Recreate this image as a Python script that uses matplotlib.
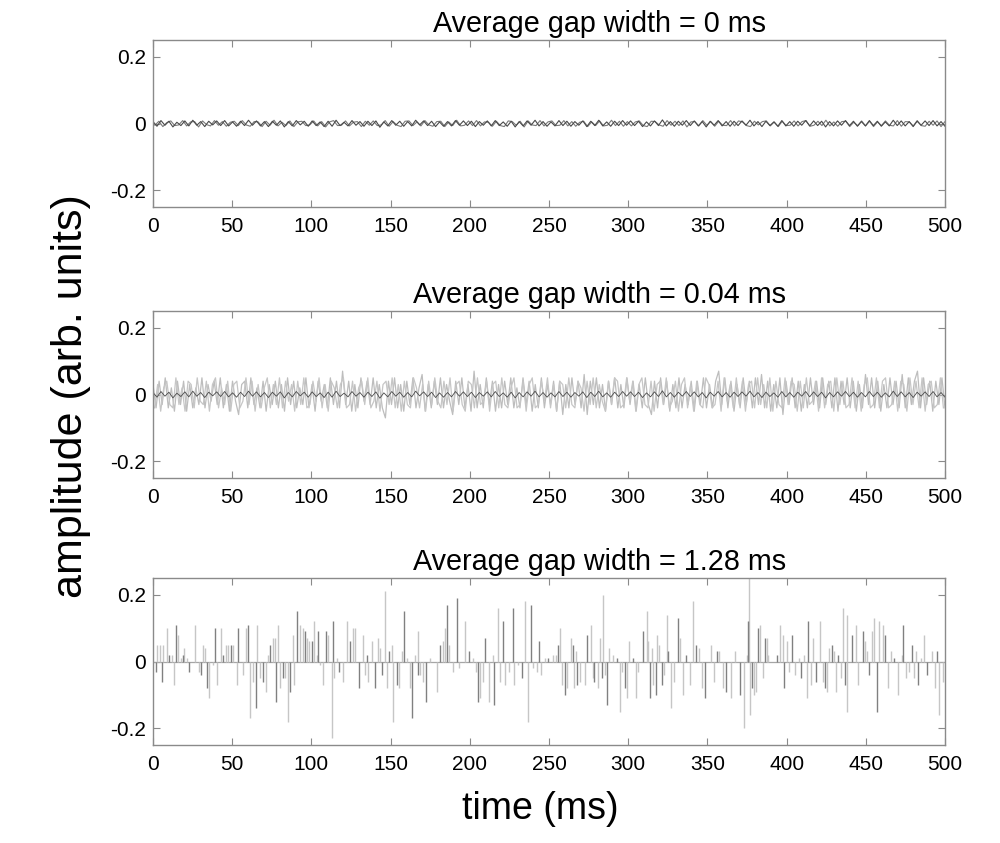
import numpy as np
import matplotlib
matplotlib.use('Agg')
import matplotlib.pyplot as plt

plt.rcParams['font.family'] = ['Liberation Sans', 'DejaVu Sans']

# panel titles
titles = ['Average gap width = 0 ms',
          'Average gap width = 0.04 ms',
          'Average gap width = 1.28 ms']

# panel 1: continuous noise, two traces, units of 0.001
noise_0ms = [
    6, -8, 9, -5, 7, -10, 4, -6, 8, -7, 10, -5, 6, -9, 7, -4, 8, -6, 9, -7,
    5, -8, 7, -6, 10, -5, 8, -7, 6, -9, 7, -5, 8, -10, 6, -7, 9, -4, 7, -8,
    8, -6, 5, -9, 7, -8, 10, -6, 4, -7, 9, -5, 6, -8, 7, -6, 8, -11, 5, -7,
    9, -5, 7, -8, 6, -7, 10, -4, 8, -6, 7, -9, 5, -8, 6, -7, 9, -5, 8, -6,
    7, -9, 6, -5, 8, -7, 9, -6, 5, -8, 7, -10, 6, -7, 8, -5, 10, -7, 6, -8,
    5, -7, 9, -6, 7, -8, 6, -5, 8, -9, 7, -6, 10, -7, 5, -8, 7, -6, 9, -5,
    8, -6, 7, -9, 5, -7, 8, -6, 11, -7, 6, -8, 7, -5, 9, -6, 8, -7, 6, -10,
    7, -5, 9, -7, 6, -8, 7, -6, 8, -5, 10, -7, 6, -9, 7, -6, 5, -8, 9, -7,
    6, -8, 7, -5, 9, -7, 8, -6, 7, -10, 6, -7, 8, -5, 9, -6, 7, -8, 6, -7,
    9, -6, 7, -8, 5, -7, 10, -6, 8, -7, 6, -9, 7, -5, 8, -6, 9, -7, 6, -8,
]
noise_0ms_b = [
    -5, 7, -9, 3, 8, -6, -4, 9, -7, 5, 6, -10, 8, -3, -7, 9, -5, 6, -8, 4,
    7, -6, 9, -4, -8, 6, 5, -9, 7, -5, 10, -7, 4, -6, 8, -9, 5, 7, -6, -4,
    8, -7, 6, -10, 5, 9, -6, -5, 8, -7, 4, 6, -9, 7, -5, 8, -6, -4, 9, -8,
    6, -5, -9, 7, 8, -6, 5, -7, 9, -4, -8, 6, 7, -9, 5, -6, 10, -7, -5, 8,
    -6, 9, -7, 5, 4, -8, 7, -6, -9, 8, 6, -5, 7, -10, 8, -4, -6, 9, -7, 5,
    8, -6, -5, 9, -7, 6, -8, 4, 7, -9, 5, -6, 8, -7, -5, 10, -6, 7, -8, 6,
    -7, 5, 8, -6, -9, 7, 6, -4, -8, 9, -5, 7, -6, 8, -10, 5, 6, -7, 9, -5,
    6, -8, 7, -5, -6, 9, -7, 8, 5, -6, -9, 7, -4, 6, 8, -7, 5, -9, 7, -6,
    -5, 8, -7, 6, 9, -8, -5, 7, -6, 10, -7, 5, -8, 6, 7, -9, 4, -6, 8, -7,
    7, -9, 5, -6, 8, -5, -7, 9, -8, 6, 5, -7, 9, -6, -8, 7, -5, 8, -9, 6,
]

# panel 2: noise with short gaps, two traces, units of 0.01
noise_004ms = [
    3, -4, 4, -3, 5, -4, 2, -5, 4, -3, 4, -5, 3, -4, 2, -3, 5, -4, 3, -2,
    4, -3, 5, -4, 3, -5, 4, -2, -6, 3, 4, -4, 5, -3, 2, -4, 4, -5, 3, -3,
    4, -4, 3, -5, 5, -3, 4, -4, 2, -3, 5, -4, 3, -5, 4, -2, 3, -4, 5, -3,
    4, -4, 7, -3, 4, -5, 3, -4, 5, -2, 4, -3, 5, -4, 3, -4, -7, 4, -3, 5,
    -4, 3, -5, 4, -3, 5, -4, 2, 6, -5, 3, -4, 4, -3, 5, -4, 3, -2, -6, 4,
    -3, 5, -4, 3, -5, 7, -4, 3, -4, 5, -3, 4, -5, 3, -4, 4, -3, 5, -4, 2,
    -4, 5, -3, 4, -5, 3, -4, 5, -4, 3, -3, 4, -5, 4, -6, 3, -4, 5, -3, 4,
    -4, 6, -6, 4, -3, 5, -4, 3, -5, 4, -3, 5, -4, 3, -4, 5, -3, 4, -5, 3,
    -4, 5, -3, -6, 4, -4, 5, -3, 4, -5, 3, -4, 5, -4, 3, -3, 4, -5, 4, -3,
    5, -4, 3, -4, 4, 7, -3, 5, -4, 4, -5, 3, -4, 5, -3, 4, -4, 5, -3, 6,
    -4, 4, -5, 3, -4, 5, -6, 4, -3, 5, -4, 4, -5, 3, -4, 5, -3, 4, -4, 5,
    -3, 4, -4, 5, -5, 4, -3, 5, -4, 4, -5, 3, -4, 6, -3, 5, -4, 4, -5, 3,
    -4, 5, -3, 4, -4, 6, -4, 5, -3, 4, 7, -4, 5, -3, 4, -5, 4, -3, 5, -4,
]
noise_004ms_b = [
    -4, 3, -5, 2, 4, -3, -4, 5, -3, 2, -5, 4, 3, -4, 5, -2, -3, 4, -5, 3,
    5, -4, 2, -3, 4, -5, 3, 4, -4, -2, 5, -3, 4, -5, 3, -4, 2, 5, -4, 3,
    -3, 5, -4, 4, -2, 3, -5, 4, -3, 5, -4, -3, 4, -2, 5, -4, 3, -5, 4, 2,
    -4, 3, 5, -4, -3, 4, -5, 2, 4, -3, 5, -4, -2, 4, -5, 3, 4, -3, 5, -4,
    3, -5, 4, -3, -4, 5, 2, -4, 3, -5, 4, -3, 5, -2, -4, 4, -3, 5, -5, 3,
    4, -3, -5, 4, 3, -4, 5, -3, -2, 4, -5, 3, 4, -4, 5, -3, -4, 2, 5, -4,
    -3, 4, -5, 3, 5, -4, -3, 4, -2, 5, -4, 3, -5, 4, 3, -4, 5, -3, -4, 4,
    2, -5, 4, -3, 5, -4, 3, -2, -5, 4, -3, 5, 4, -4, -3, 5, -2, 4, -5, 3,
    5, -3, -4, 4, -5, 3, 4, -3, 5, -4, -2, 4, -5, 3, 5, -4, 3, -5, 4, -3,
    -4, 5, 3, -4, -3, 4, -5, 5, -2, 3, -4, 5, -3, 4, -5, 3, 4, -4, 5, -3,
    3, -4, 5, -5, 4, -3, -4, 5, -3, 4, 3, -5, 4, -4, 5, -3, -2, 4, -5, 5,
    -4, 3, 4, -5, 5, -3, 4, -4, -3, 5, -4, 4, -5, 3, 5, -4, -3, 5, -4, 4,
    5, -4, -3, 4, -5, 4, 3, -5, 5, -3, 4, -4, 5, -5, 3, 4, -4, -3, 5, -4,
]

# panel 3: sparse spikes (time in ms, amplitude in units of 0.01)
spike_t = [
    1.9, 2.7, 4.4, 5.5, 6.5, 9.1, 10.3, 11.8, 13.5, 14.5, 15.8, 17.5, 18.7, 19.8, 21.3,
    22.9, 26.5, 29.3, 30.1, 31.8, 32.8, 33.9, 35.6, 37.7, 39.2, 40.6, 42.7, 44.4, 46.1,
    47.6, 49.3, 50.7, 52.8, 53.9, 56.6, 58.7, 60.2, 61.3, 63.4, 64.8, 65.9, 67.6, 69.3,
    71.4, 72.8, 73.9, 75.6, 77.1, 77.6, 79.2, 80.2, 82.3, 83.4, 85.5, 86.5, 88.2, 89.1,
    91.2, 92.8, 94.5, 96.0, 97.5, 98.7, 100.2, 101.9, 103.4, 104.4, 105.5, 107.6, 109.3,
    110.7, 112.8, 113.9, 114.5, 116.0, 117.7, 119.8, 122.3, 124.4, 126.5,
    127.6, 130.3, 132.4, 133.9, 135.3, 136.0, 138.1, 140.2, 142.3, 143.3, 144.4, 146.3,
    147.5, 149.2, 150.7, 151.8, 153.9, 155.5, 157.0, 158.7, 160.2, 162.3, 163.8, 165.4,
    167.1, 167.6, 168.6, 170.7, 172.4, 174.9, 179.5, 181.2, 182.9, 184.4, 185.4, 187.1,
    189.6, 191.7, 193.4, 197.0, 199.7, 202.3, 203.9, 205.4, 206.5, 208.2, 209.6, 212.4,
    214.5, 215.5, 218.0, 219.1, 220.8, 222.3, 225.0, 227.1, 227.9, 230.7, 232.8, 234.9,
    237.0, 238.5, 240.1, 242.2, 243.7, 244.8, 247.5, 249.6, 252.8,
    254.4, 255.9, 256.9, 258.0, 260.1, 261.1, 263.6, 264.9, 265.8, 267.0, 267.4, 269.5,
    272.7, 273.7, 276.3, 277.5, 278.6, 281.1, 282.2, 283.2, 284.3, 285.3, 286.8, 288.1,
    290.2, 292.7, 294.8, 295.9, 298.0, 299.0, 300.7, 303.2, 304.9, 306.4, 309.5, 311.6,
    312.7, 313.7, 314.8, 315.8, 317.5, 318.4, 319.6, 321.1, 322.8, 324.3, 325.3, 327.0,
    328.9, 331.6, 332.7, 334.8, 336.5, 339.0, 340.7, 342.8, 344.9, 346.5, 348.6, 352.3,
    354.2, 355.9, 357.4, 359.7, 361.6, 364.8, 367.5, 370.5, 373.1, 374.9, 375.9, 376.5,
    376.9,
    378.0, 379.4, 380.7, 382.2, 383.2, 384.9, 386.4, 387.4, 388.5, 393.7, 395.8, 397.5,
    398.6, 400.5, 401.7, 403.2, 405.3, 408.0, 408.9, 411.0, 412.7, 413.7, 415.4, 416.9,
    418.6, 421.1, 422.8, 424.2, 425.7, 427.0, 428.5, 429.9, 431.2, 432.7, 434.2, 435.4,
    436.9, 437.9, 438.2, 441.1, 443.8, 445.3, 448.0, 449.5, 451.0, 452.2, 453.7, 455.2,
    456.9, 458.6, 460.7, 462.1, 464.2, 465.7, 467.8, 470.6, 472.6, 473.7, 475.4, 477.5,
    478.9, 480.5, 481.7, 483.2, 484.6, 486.7, 488.4, 491.6, 493.7, 494.7, 496.4, 499.0,
]
spike_amp = [
    -3, 5, 5, -6, 5, 10, 2, 2, -7, 11, 8, 1, 2, 4, 1,
    -3, 11, -3, -4, 5, 4, -8, -11, -1, 10, -7, 10, 2, 5,
    5, 5, 5, -7, 10, -4, 10, 11, -17, -6, -14, 11, -5, -6,
    -9, 2, 5, 7, 7, -12, 11, -8, -5, -5, -18, -9, 8, -7,
    15, 11, 10, 9, 7, 6, 6, 12, 2, 9, -1, -7, 9,
    8, -23, 12, -5, 1, -3, -6, 12, 6, 10,
    10, -8, 8, -4, 2, -6, 6, -8, 7, 4, -4, 21,
    -8, 3, 5, -18, -7, -8, 3, 15, 1, -8, -17, 2,
    9, -4, -4, -6, -12, 1, -9, 5, 6, 10, 17, 5,
    -3, 19, -2, 12, 3, 1, -3, -12, -11, -6, 7, -12,
    2, -13, 16, -6, 12, -7, -3, 16, -7, -1, -5, 18,
    -18, 17, -2, -3, 6, -4, 1, 1, 2,
    2, 5, 10, -7, -10, -8, 7, 5, -8, 3, -7, -6,
    -7, 8, 11, -5, -6, -8, 7, -5, 20, -4, -13, 4,
    2, 1, -15, -3, -8, -11, 6, 1, -11, -3, 9, 15,
    6, -11, 4, -7, -10, 8, 5, -7, -4, 14, 3, -14,
    -6, 13, 7, -10, 2, -7, 18, 5, 4, -8, -11, 5,
    -6, 3, 3, -8, -9, -11, 3, -10, -20, 2, 12, 25,
    -16,
    -8, -10, -9, 10, 11, -5, 7, 7, 2, 2, 11, 8,
    -8, 6, -3, 8, -4, 1, -5, 2, -11, 12, -7, 7,
    -6, 12, -6, -8, -9, 4, 5, 3, -9, 2, -5, 16,
    -7, 14, -15, 8, 11, -7, 9, 6, 3, -4, 9, 13,
    -15, 12, 11, 8, -8, 3, 1, -10, 2, 11, -5, -3,
    5, -5, 3, -7, 1, 8, -4, 3, -8, 3, -16, -6,
]

fig = plt.figure(figsize=(10, 8.43), dpi=100)
bottoms = [0.7544, 0.4330, 0.1163]
axes = [fig.add_axes([0.153, b, 0.792, 0.198]) for b in bottoms]

# panel 1
y1 = np.array(noise_0ms) / 1000.0
y1b = np.array(noise_0ms_b) / 1000.0
t1 = np.linspace(0, 500, len(y1))
t1b = np.linspace(1.2, 500, len(y1b))
axes[0].plot(t1b, y1b, color='#7a7a7a', lw=0.8)
axes[0].plot(t1, y1, color='#4a4a4a', lw=0.8)

# panel 2
y2 = np.array(noise_004ms) / 100.0
y2b = np.array(noise_004ms_b) / 100.0
t2 = np.linspace(0, 500, len(y2))
t2b = np.linspace(1.0, 499, len(y2b))
axes[1].plot(t2, y2, color='#bdbdbd', lw=0.9)
axes[1].plot(t2b, y2b, color='#c6c6c6', lw=0.9)
axes[1].plot(t1, y1, color='#4a4a4a', lw=0.6)

# panel 3
ax3 = axes[2]
ax3.axhline(0, color='#a5a5a5', lw=0.9)
amp = np.array(spike_amp) / 100.0
tt = np.array(spike_t)
dark = np.arange(len(tt)) % 3 == 0
ax3.vlines(tt[~dark], 0, amp[~dark], color='#c6c6c6', lw=1.0)
ax3.vlines(tt[dark], 0, amp[dark], color='#808080', lw=1.0)

for ax, title in zip(axes, titles):
    ax.set_xlim(0, 500)
    ax.set_ylim(-0.25, 0.25)
    ax.set_xticks(np.arange(0, 501, 50))
    ax.set_yticks([-0.2, 0, 0.2])
    ax.set_yticklabels(['-0.2', '0', '0.2'])
    ax.tick_params(direction='in', top=True, right=True, length=5,
                   color='#8a8a8a', labelsize=15, pad=7)
    ax.tick_params(axis='y', pad=5)
    for s in ax.spines.values():
        s.set_color('#8a8a8a')
        s.set_linewidth(1.0)
    ax.set_title(title, fontsize=20.7, x=0.564, pad=6)

fig.text(0.54, 0.040, 'time (ms)', ha='center', va='center', fontsize=27)
fig.text(0.071, 0.53, 'amplitude (arb. units)', ha='center', va='center',
         rotation=90, fontsize=31)

plt.savefig('out.png', dpi=100)
